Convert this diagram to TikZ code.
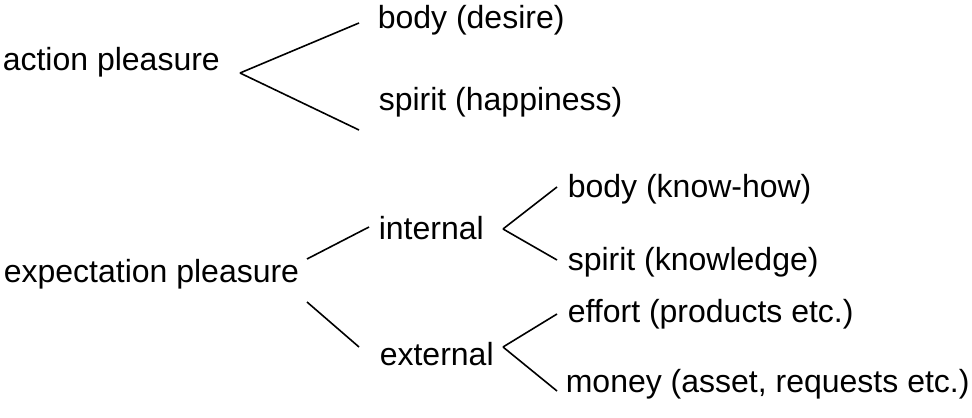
\documentclass[tikz,border=0pt]{standalone}
\usepackage{fontspec}
\setmainfont{Liberation Sans}
\usepackage{tikz}
\usetikzlibrary{positioning}

\begin{document}
\begin{tikzpicture}[x=0.5pt,y=-0.5pt,line width=0.8pt,
 leaf node/.style={anchor=base west,inner sep=0pt,font=\fontsize{16}{19}\selectfont}]

  \useasboundingbox (0,0) rectangle (972,417);

  % terms
  \node[leaf node] (act) at (2,70) {action pleasure};
  \node[leaf node] (body1) at (377,29) {body (desire)};
  \node[leaf node] (spirit1) at (378,111) {spirit (happiness)};

  \node[leaf node] (exp) at (3,282) {expectation pleasure};
  \node[leaf node] (int) at (378,239) {internal};
  \node[leaf node] (ext) at (379,365) {external};
  \node[leaf node] (body2) at (567,197) {body (know-how)};
  \node[leaf node] (spirit2) at (567,270) {spirit (knowledge)};
  \node[leaf node] (effort) at (567,322) {effort (products etc.)};
  \node[leaf node] (money) at (565,392) {money (asset, requests etc.)};

  % branch points
  \coordinate (act fork) at (240,73);
  \coordinate (body1 in) at (359,23);
  \coordinate (spirit1 in) at (359,130);

  \coordinate (exp up) at (307,259);
  \coordinate (int in) at (369,227);
  \coordinate (exp down) at (307,302);
  \coordinate (ext in) at (359,347);

  \coordinate (int fork) at (503,229);
  \coordinate (body2 in) at (557,187);
  \coordinate (spirit2 in) at (557,260);

  \coordinate (ext fork) at (503,347);
  \coordinate (effort in) at (557,314);
  \coordinate (money in) at (557,391);

  \foreach \s/\t in {act fork/body1 in, act fork/spirit1 in, exp up/int in, exp down/ext in,
   int fork/body2 in, int fork/spirit2 in, ext fork/effort in, ext fork/money in} {
   \draw (\s) -- (\t);}
\end{tikzpicture}
\end{document}
